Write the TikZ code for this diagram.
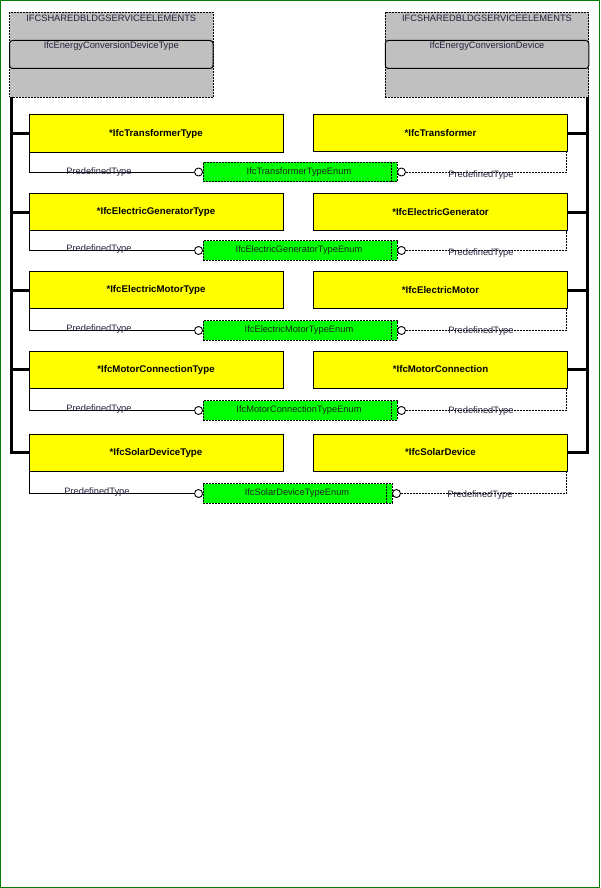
\documentclass[tikz,border=0pt]{standalone}
\usepackage{fontspec}
\setmainfont{Liberation Sans}
\usetikzlibrary{calc}
\definecolor{ygold}{RGB}{255,255,0}
\definecolor{egreen}{RGB}{0,255,0}
\definecolor{hgray}{RGB}{192,192,192}
\definecolor{frame}{RGB}{0,128,0}
\definecolor{dtext}{RGB}{35,35,60}
\definecolor{etext}{RGB}{25,40,25}
\begin{document}
\begin{tikzpicture}[x=1pt,y=-1pt,
  every node/.style={font=\fontsize{9.3}{11}\selectfont},
  hdr/.style={draw, dash pattern=on 2pt off 1pt, fill=hgray, line width=0.9pt, minimum width=203.5, minimum height=85, inner sep=0},
  mid/.style={draw, fill=hgray, rounded corners=3pt, line width=1pt, minimum width=203.5, minimum height=28, inner sep=0},
  htext/.style={text=dtext, inner sep=0},
  ybox/.style={draw, fill=ygold, line width=1pt, minimum width=254, minimum height=37, inner sep=0, font=\fontsize{9.7}{11}\selectfont\bfseries},
  gbox/.style={draw, dash pattern=on 2pt off 1pt, fill=egreen, line width=0.9pt, minimum height=19.5, inner sep=0},
  etxt/.style={text=etext, inner sep=0},
  circ/.style={draw, circle, fill=white, minimum size=8, inner sep=0, line width=0.9pt},
  ptxt/.style={text=dtext, inner sep=0},
  tree/.style={line width=3pt},
  conn/.style={line width=0.9pt},
  dconn/.style={line width=0.9pt, dash pattern=on 2pt off 1pt}
]
\useasboundingbox (0,0) rectangle (600,888);
\draw[frame, line width=1.4pt] (0.7,0.7) rectangle (599.3,887.3);

% header boxes
\node[hdr] (hdrL) at (111.25,55) {};
\node[mid] (midL) at (111.25,54.5) {};
\node[htext] (hL1) at (111.25,18.3) {IFCSHAREDBLDGSERVICEELEMENTS};
\node[htext] (hL2) at (111.25,46.5) {IfcEnergyConversionDeviceType};
\node[hdr] (hdrR) at (487,55) {};
\node[mid] (midR) at (487,54.5) {};
\node[htext] (hR1) at (487,18.3) {IFCSHAREDBLDGSERVICEELEMENTS};
\node[htext] (hR2) at (487,46.5) {IfcEnergyConversionDevice};

% yellow boxes
\node[ybox] (yL1) at (156,133.5) {*IfcTransformerType};
\node[ybox] (yR1) at (440.5,133) {*IfcTransformer};
\node[ybox] (yL2) at (156,212) {*IfcElectricGeneratorType};
\node[ybox] (yR2) at (440.5,212) {*IfcElectricGenerator};
\node[ybox] (yL3) at (156,290) {*IfcElectricMotorType};
\node[ybox] (yR3) at (440.5,290) {*IfcElectricMotor};
\node[ybox] (yL4) at (156,369.5) {*IfcMotorConnectionType};
\node[ybox] (yR4) at (440.5,369.5) {*IfcMotorConnection};
\node[ybox] (yL5) at (156,452.5) {*IfcSolarDeviceType};
\node[ybox] (yR5) at (440.5,452.5) {*IfcSolarDevice};

% tree connectors
\coordinate (tl) at (11,97.5);
\coordinate (tr) at (587,97.5);
\draw[tree] (tl) |- (yL5.west);
\foreach \i in {1,2,3,4} \draw[tree] (tl |- yL\i.west) -- (yL\i.west);
\draw[tree] (tr) |- (yR5.east);
\foreach \i in {1,2,3,4} \draw[tree] (tr |- yR\i.east) -- (yR\i.east);

% enum boxes
\node[gbox, minimum width=194] (g1) at (300,172) {};
\node[gbox, minimum width=194] (g2) at (300,250.5) {};
\node[gbox, minimum width=194] (g3) at (300,330.5) {};
\node[gbox, minimum width=194] (g4) at (300,410.5) {};
\node[gbox, minimum width=189] (g5) at (297.5,493.5) {};
\foreach \i in {1,2,3,4,5} \draw[dconn] ($(g\i.north east)+(-6,0)$) -- ($(g\i.south east)+(-6,0)$);

\node[etxt] (e1) at (299,172) {IfcTransformerTypeEnum};
\node[etxt] (e2) at (299,250.5) {IfcElectricGeneratorTypeEnum};
\node[etxt] (e3) at (299,330.5) {IfcElectricMotorTypeEnum};
\node[etxt] (e4) at (299,410.5) {IfcMotorConnectionTypeEnum};
\node[etxt] (e5) at (297,493.5) {IfcSolarDeviceTypeEnum};

% circles
\foreach \i in {1,2,3,4,5} {
  \node[circ] (cl\i) at ($(g\i.west)+(-4,0)$) {};
  \node[circ] (cr\i) at ($(g\i.east)+(4,0)$) {};
}

% predefined type connectors
\foreach \i in {1,2,3,4,5} {
  \draw[conn] ($(yL\i.south west)+(1,0)$) |- (cl\i.west);
  \draw[dconn] (cr\i.east) -| ($(yR\i.south east)+(-1.5,0)$);
}

% labels
\node[ptxt] (pl1) at (99,172) {PredefinedType};
\node[ptxt] (pl2) at (99,249) {PredefinedType};
\node[ptxt] (pl3) at (99,329.5) {PredefinedType};
\node[ptxt] (pl4) at (99,409.5) {PredefinedType};
\node[ptxt] (pl5) at (97,492.5) {PredefinedType};
\node[ptxt] (pr1) at (481,175) {PredefinedType};
\node[ptxt] (pr2) at (481,253) {PredefinedType};
\node[ptxt] (pr3) at (481,331.5) {PredefinedType};
\node[ptxt] (pr4) at (481,411) {PredefinedType};
\node[ptxt] (pr5) at (480,495) {PredefinedType};
\end{tikzpicture}
\end{document}
